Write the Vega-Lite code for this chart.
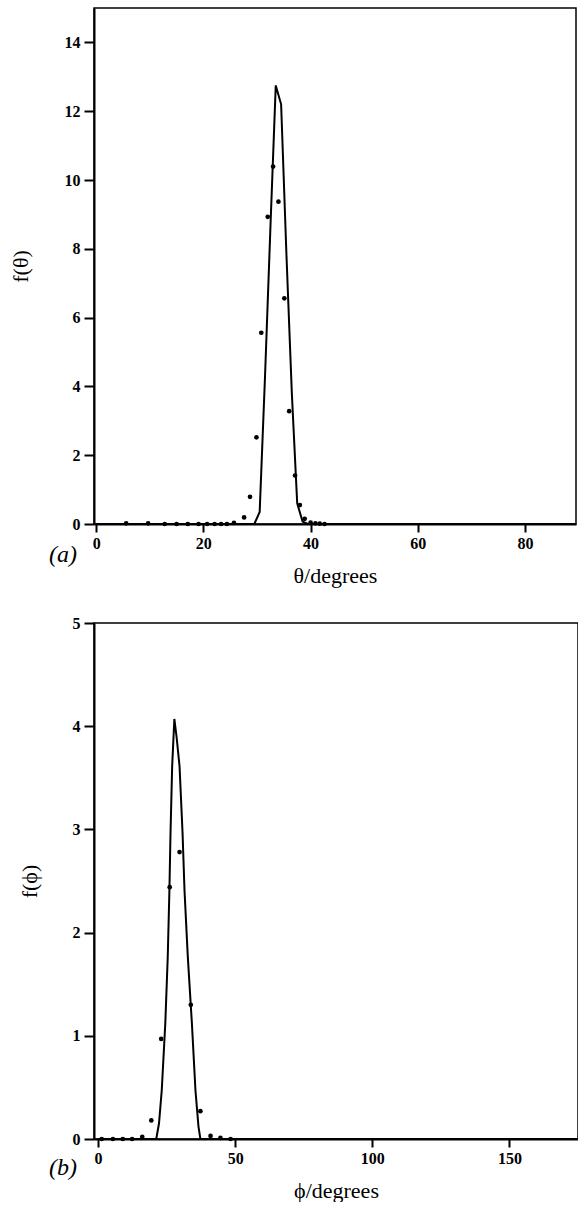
{
  "$schema": "https://vega.github.io/schema/vega-lite/v6.json",
  "autosize": {"type": "pad"},
  "padding": {"left": 8, "top": 7, "right": 0, "bottom": 0},
  "background": "white",
  "config": {
    "font": "Liberation Serif",
    "view": {"stroke": "black", "strokeWidth": 1.5},
    "axis": {
      "grid": false,
      "domainColor": "black",
      "domainWidth": 2,
      "tickColor": "black",
      "tickWidth": 2,
      "labelFont": "Liberation Serif",
      "labelFontWeight": "bold",
      "labelFontSize": 16,
      "labelColor": "black",
      "titleFont": "Liberation Serif",
      "titleFontWeight": "normal",
      "titleFontSize": 22,
      "titleColor": "black"
    }
  },
  "datasets": {
    "lineA": [
      {"theta": 0, "f": 0}, {"theta": 29.5, "f": 0}, {"theta": 30.5, "f": 0.35},
      {"theta": 31.5, "f": 4.3}, {"theta": 32.5, "f": 8.6}, {"theta": 33.5, "f": 12.75},
      {"theta": 34.5, "f": 12.2}, {"theta": 35.5, "f": 7.8}, {"theta": 36.5, "f": 3.8},
      {"theta": 37.5, "f": 0.6}, {"theta": 38.5, "f": 0.07}, {"theta": 39.5, "f": 0},
      {"theta": 89.5, "f": 0}
    ],
    "ptsA": [
      {"theta": 5.6, "f": 0.02}, {"theta": 9.7, "f": 0.02}, {"theta": 12.8, "f": 0},
      {"theta": 15.0, "f": 0}, {"theta": 17.1, "f": 0}, {"theta": 19.1, "f": 0},
      {"theta": 20.7, "f": 0}, {"theta": 22.1, "f": 0}, {"theta": 23.3, "f": 0},
      {"theta": 24.4, "f": 0}, {"theta": 25.7, "f": 0.03}, {"theta": 27.6, "f": 0.19},
      {"theta": 28.7, "f": 0.79}, {"theta": 29.9, "f": 2.52}, {"theta": 30.8, "f": 5.56},
      {"theta": 32.0, "f": 8.93}, {"theta": 33.0, "f": 10.39}, {"theta": 34.0, "f": 9.37},
      {"theta": 35.1, "f": 6.56}, {"theta": 36.0, "f": 3.28}, {"theta": 37.1, "f": 1.41},
      {"theta": 38.0, "f": 0.55}, {"theta": 38.9, "f": 0.15}, {"theta": 40.0, "f": 0.04},
      {"theta": 40.9, "f": 0.02}, {"theta": 41.7, "f": 0.01}, {"theta": 42.6, "f": 0}
    ],
    "lineB": [
      {"phi": 0, "f": 0}, {"phi": 21.2, "f": 0}, {"phi": 22.2, "f": 0.15},
      {"phi": 23.2, "f": 0.47}, {"phi": 24.5, "f": 1.12}, {"phi": 25.4, "f": 1.77},
      {"phi": 26.0, "f": 2.41}, {"phi": 26.4, "f": 2.96}, {"phi": 27.0, "f": 3.61},
      {"phi": 27.8, "f": 4.07}, {"phi": 28.6, "f": 3.9}, {"phi": 29.7, "f": 3.61},
      {"phi": 30.8, "f": 2.96}, {"phi": 31.5, "f": 2.41}, {"phi": 32.7, "f": 1.77},
      {"phi": 34.2, "f": 1.12}, {"phi": 35.5, "f": 0.47}, {"phi": 36.6, "f": 0.12},
      {"phi": 37.3, "f": 0}, {"phi": 175, "f": 0}
    ],
    "ptsB": [
      {"phi": 1.3, "f": 0}, {"phi": 5.4, "f": 0}, {"phi": 9.0, "f": 0},
      {"phi": 12.4, "f": 0}, {"phi": 16.1, "f": 0.02}, {"phi": 19.4, "f": 0.18},
      {"phi": 23.0, "f": 0.97}, {"phi": 26.1, "f": 2.44}, {"phi": 29.7, "f": 2.78},
      {"phi": 33.8, "f": 1.30}, {"phi": 37.3, "f": 0.27}, {"phi": 41.0, "f": 0.03},
      {"phi": 44.6, "f": 0.01}, {"phi": 48.3, "f": 0}
    ]
  },
  "vconcat": [
    {
      "width": 482,
      "height": 516,
      "layer": [
        {
          "data": {"name": "lineA"},
          "mark": {"type": "line", "color": "black", "strokeWidth": 2},
          "encoding": {
            "x": {
              "field": "theta", "type": "quantitative",
              "scale": {"domain": [-0.4, 89.5], "nice": false, "zero": false},
              "axis": {"values": [0, 20, 40, 60, 80], "format": "d", "tickSize": 8, "labelPadding": 3, "title": "θ/degrees", "titlePadding": 14}
            },
            "y": {
              "field": "f", "type": "quantitative",
              "scale": {"domain": [0, 15], "nice": false},
              "axis": {"values": [0, 2, 4, 6, 8, 10, 12, 14], "format": "d", "tickSize": 10, "labelPadding": 4, "title": "f(θ)", "titleX": -74, "titleBaseline": "middle"}
            }
          }
        },
        {
          "data": {"name": "ptsA"},
          "mark": {"type": "circle", "color": "black", "size": 22, "opacity": 1},
          "encoding": {
            "x": {"field": "theta", "type": "quantitative"},
            "y": {"field": "f", "type": "quantitative"}
          }
        },
        {
          "data": {"values": [{"label": "(a)"}]},
          "mark": {"type": "text", "font": "Liberation Serif", "fontStyle": "italic", "fontSize": 24, "color": "black", "baseline": "middle", "align": "center"},
          "encoding": {
            "x": {"datum": -6.2},
            "y": {"datum": -0.9},
            "text": {"field": "label"}
          }
        }
      ]
    },
    {
      "width": 484,
      "height": 516,
      "layer": [
        {
          "data": {"name": "lineB"},
          "mark": {"type": "line", "color": "black", "strokeWidth": 2},
          "encoding": {
            "x": {
              "field": "phi", "type": "quantitative",
              "scale": {"domain": [-1.5, 175], "nice": false, "zero": false},
              "axis": {"values": [0, 50, 100, 150], "format": "d", "tickSize": 8, "labelPadding": 3, "title": "ϕ/degrees", "titlePadding": 14}
            },
            "y": {
              "field": "f", "type": "quantitative",
              "scale": {"domain": [0, 5], "nice": false},
              "axis": {"values": [0, 1, 2, 3, 4, 5], "format": "d", "tickSize": 10, "labelPadding": 4, "title": "f(ϕ)", "titleX": -65, "titleBaseline": "middle"}
            }
          }
        },
        {
          "data": {"name": "ptsB"},
          "mark": {"type": "circle", "color": "black", "size": 22, "opacity": 1},
          "encoding": {
            "x": {"field": "phi", "type": "quantitative"},
            "y": {"field": "f", "type": "quantitative"}
          }
        },
        {
          "data": {"values": [{"label": "(b)"}]},
          "mark": {"type": "text", "font": "Liberation Serif", "fontStyle": "italic", "fontSize": 24, "color": "black", "baseline": "middle", "align": "center"},
          "encoding": {
            "x": {"datum": -12.8},
            "y": {"datum": -0.28},
            "text": {"field": "label"}
          }
        }
      ]
    }
  ],
  "bounds": "flush",
  "spacing": 99
}
